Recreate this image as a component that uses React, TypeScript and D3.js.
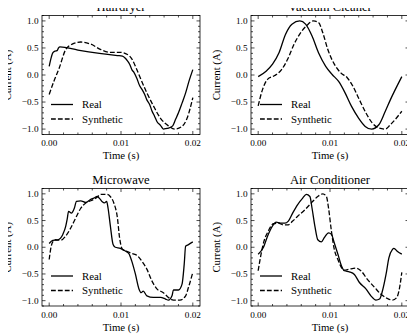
import React from "react";
import * as d3 from "d3";

const W = 415;
const H = 336;

const titles = ["Hairdryer", "Vacuum Cleaner", "Microwave", "Air Conditioner"];
const seriesNames = ["Real", "Synthetic"];
const xTicks = [0, 0.01, 0.02];
const xTickLabels = ["0.00", "0.01", "0.02"];
const yTicks = [1, 0.5, 0, -0.5, -1];
const yTickLabels = ["1.0", "0.5", "0.0", "\u22120.5", "\u22121.0"];

// [time (s), current (A)]
const hairReal: [number, number][] = [
  [0, 0.16], [0.0003, 0.33], [0.0005, 0.41], [0.0008, 0.44], [0.0011, 0.45], [0.0013, 0.5], [0.0015, 0.52],
  [0.004, 0.46], [0.007, 0.4], [0.0095, 0.36], [0.0102, 0.35], [0.0106, 0.31], [0.0109, 0.26],
  [0.0112, 0.2], [0.01155, 0.09], [0.0118, 0.05], [0.0122, -0.06], [0.0126, -0.2], [0.0129, -0.26],
  [0.0133, -0.36], [0.0136, -0.46], [0.014, -0.55], [0.0143, -0.66], [0.0147, -0.77], [0.015, -0.86],
  [0.0155, -0.93], [0.0159, -1.0], [0.0163, -0.99], [0.0166, -0.98], [0.0172, -0.94], [0.0176, -0.82],
  [0.018, -0.7], [0.0185, -0.52], [0.019, -0.33], [0.0195, -0.1], [0.02, 0.1],
];
const hairSyn: [number, number][] = [
  [0, -0.36], [0.0007, -0.1], [0.0014, 0.13], [0.0023, 0.47], [0.0032, 0.57], [0.0044, 0.61],
  [0.0058, 0.57], [0.0072, 0.47], [0.0085, 0.42], [0.0099, 0.42], [0.0109, 0.38], [0.01155, 0.29],
  [0.0122, 0.1], [0.0129, -0.12], [0.0136, -0.33], [0.01455, -0.58], [0.0155, -0.8], [0.0166, -0.94],
  [0.0175, -1.0], [0.0185, -0.95], [0.0192, -0.8], [0.02, -0.42],
];
const vacReal: [number, number][] = [
  [0, -0.03], [0.0011, 0.07], [0.002, 0.2], [0.0029, 0.41], [0.0038, 0.75], [0.0047, 0.94], [0.0058, 1.0],
  [0.0066, 0.94], [0.0075, 0.72], [0.0084, 0.41], [0.0094, 0.16], [0.0103, 0.01], [0.0112, -0.12],
  [0.0121, -0.33], [0.013, -0.58], [0.014, -0.8], [0.0149, -0.95], [0.0158, -1.0], [0.0168, -0.92],
  [0.0177, -0.67], [0.0184, -0.46], [0.02, -0.03],
];
const vacSyn: [number, number][] = [
  [0, -0.57], [0.0006, -0.27], [0.0013, -0.08], [0.0023, -0.01], [0.0032, 0.09], [0.0041, 0.29],
  [0.005, 0.57], [0.0059, 0.78], [0.0068, 0.92], [0.0077, 1.0], [0.0084, 0.97], [0.009, 0.78],
  [0.0097, 0.47], [0.0106, 0.2], [0.0115, 0.04], [0.0124, -0.05], [0.0132, -0.21], [0.0141, -0.46],
  [0.015, -0.7], [0.0159, -0.89], [0.0168, -0.98], [0.0177, -1.0], [0.0184, -0.92], [0.02, -0.67],
];
const micReal: [number, number][] = [
  [0, 0.07], [0.0005, 0.13], [0.0012, 0.14], [0.0019, 0.24], [0.0023, 0.39], [0.0025, 0.52],
  [0.0027, 0.67], [0.0031, 0.64], [0.0035, 0.73], [0.0038, 0.86], [0.0044, 0.87], [0.0051, 0.84],
  [0.0057, 0.89], [0.0062, 0.92], [0.0067, 0.95], [0.0071, 0.9], [0.0074, 0.85], [0.0077, 0.83],
  [0.008, 0.86], [0.0082, 0.73], [0.0085, 0.42], [0.0089, 0.05], [0.0092, 0.0], [0.0099, -0.02],
  [0.0106, -0.07], [0.0111, -0.12], [0.0115, -0.26], [0.012, -0.5], [0.0125, -0.78], [0.0128, -0.85],
  [0.0131, -0.82], [0.0136, -0.91], [0.0145, -0.94], [0.0155, -0.94], [0.0162, -0.97], [0.0166, -0.99],
  [0.0171, -0.91], [0.0173, -0.8], [0.018, -0.8], [0.0185, -0.69], [0.0188, -0.32], [0.019, 0.02],
  [0.0194, 0.05], [0.02, 0.1],
];
const micSyn: [number, number][] = [
  [0, -0.23], [0.0002, -0.04], [0.0005, 0.1], [0.0009, 0.14], [0.0016, 0.13], [0.0023, 0.21],
  [0.003, 0.36], [0.0037, 0.55], [0.0044, 0.73], [0.0051, 0.83], [0.0058, 0.87], [0.0065, 0.92],
  [0.0072, 0.99], [0.008, 0.99], [0.0085, 0.95], [0.009, 0.83], [0.0095, 0.55], [0.0098, 0.18],
  [0.0102, -0.04], [0.0109, -0.08], [0.0116, -0.12], [0.0122, -0.15], [0.0129, -0.26], [0.0136, -0.41],
  [0.0143, -0.63], [0.015, -0.78], [0.0159, -0.85], [0.0166, -0.94], [0.0173, -0.99], [0.0182, -0.99],
  [0.019, -0.91], [0.0194, -0.75], [0.02, -0.47],
];
const acReal: [number, number][] = [
  [0, -0.13], [0.0007, -0.01], [0.0014, 0.24], [0.0021, 0.42], [0.0025, 0.47], [0.0031, 0.45],
  [0.0037, 0.45], [0.0042, 0.49], [0.0048, 0.64], [0.0055, 0.8], [0.0062, 0.92], [0.0067, 0.99],
  [0.0072, 0.95], [0.0075, 0.73], [0.0079, 0.39], [0.0083, 0.14], [0.0088, 0.1], [0.0092, 0.18],
  [0.0098, 0.27], [0.0102, 0.24], [0.0106, 0.08], [0.0111, -0.13], [0.0116, -0.35], [0.012, -0.44],
  [0.0127, -0.46], [0.0134, -0.51], [0.0141, -0.66], [0.015, -0.78], [0.0157, -0.91], [0.0164, -0.99],
  [0.0169, -0.97], [0.0173, -0.82], [0.0178, -0.51], [0.0182, -0.2], [0.0187, -0.04], [0.0189, -0.02],
  [0.0194, -0.08], [0.02, -0.13],
];
const acSyn: [number, number][] = [
  [0, -0.44], [0.0004, -0.13], [0.0008, 0.11], [0.0014, 0.3], [0.0021, 0.44], [0.0028, 0.45],
  [0.0035, 0.42], [0.0042, 0.42], [0.0048, 0.49], [0.0055, 0.58], [0.0065, 0.7], [0.0074, 0.83],
  [0.0083, 0.95], [0.009, 1.0], [0.0095, 0.95], [0.0098, 0.73], [0.0102, 0.3], [0.0106, -0.04],
  [0.0111, -0.23], [0.0116, -0.38], [0.012, -0.43], [0.0127, -0.41], [0.0136, -0.39], [0.0143, -0.44],
  [0.0152, -0.6], [0.0162, -0.75], [0.0171, -0.88], [0.018, -0.96], [0.0187, -0.99], [0.0193, -0.94],
  [0.0196, -0.82], [0.02, -0.47],
];

const realSeries = [hairReal, vacReal, micReal, acReal];
const synSeries = [hairSyn, vacSyn, micSyn, acSyn];

const colLeft = [42, 251];
const colRight = [200, 409];
const rowTop = [15.5, 188.5];
const rowBottom = [134.5, 306];

const FONT = "serif";

function Txt({
  x,
  y,
  size,
  anchor = "start",
  rotate = 0,
  children,
}: {
  x: number;
  y: number;
  size: number;
  anchor?: string;
  rotate?: number;
  children: React.ReactNode;
}) {
  return (
    <text
      x={0}
      y={0}
      transform={`translate(${x},${y}) rotate(${rotate})`}
      fontSize={size}
      fontFamily={FONT}
      textAnchor={anchor}
      fill="#000"
    >
      {children}
    </text>
  );
}

function Panel({ idx }: { idx: number }) {
  const c = idx % 2;
  const r = Math.floor(idx / 2);
  const L = colLeft[c], R = colRight[c], T = rowTop[r], B = rowBottom[r];
  const x = d3.scaleLinear().domain([-0.001, 0.021]).range([L, R]);
  const y = d3.scaleLinear().domain([-1.1, 1.1]).range([B, T]);
  const line = d3
    .line<[number, number]>()
    .x((d) => x(d[0]))
    .y((d) => y(d[1]))
    .curve(d3.curveMonotoneX);
  const xMinor = d3.range(0, 0.0201, 0.002).filter((v) => Math.abs(v / 0.01 - Math.round(v / 0.01)) > 1e-6);
  const yMinor = d3.range(-11, 12).map((v) => v / 10).filter((v) => Math.abs(v * 2 - Math.round(v * 2)) > 1e-6);
  const maj = 3.5;
  const min = 2;
  const tickStyle = { stroke: "#000", strokeWidth: 0.7 };
  const cx = (L + R) / 2;
  const cy = (T + B) / 2;
  return (
    <g>
      <path d={line(realSeries[idx]) || ""} fill="none" stroke="#000" strokeWidth={1.3} />
      <path d={line(synSeries[idx]) || ""} fill="none" stroke="#000" strokeWidth={1.3} strokeDasharray="4.8,2.1" />
      {xTicks.map((v, i) => (
        <g key={"xt" + i}>
          <line x1={x(v)} x2={x(v)} y1={B} y2={B - maj} {...tickStyle} />
          <line x1={x(v)} x2={x(v)} y1={T} y2={T + maj} {...tickStyle} />
          <Txt x={x(v)} y={B + 11.5} size={9.2} anchor="middle">
            {xTickLabels[i]}
          </Txt>
        </g>
      ))}
      {xMinor.map((v, i) => (
        <g key={"xm" + i}>
          <line x1={x(v)} x2={x(v)} y1={B} y2={B - min} {...tickStyle} />
          <line x1={x(v)} x2={x(v)} y1={T} y2={T + min} {...tickStyle} />
        </g>
      ))}
      {yTicks.map((v, i) => (
        <g key={"yt" + i}>
          <line x1={L} x2={L + maj} y1={y(v)} y2={y(v)} {...tickStyle} />
          <line x1={R} x2={R - maj} y1={y(v)} y2={y(v)} {...tickStyle} />
          <Txt x={L - 3.5} y={y(v) + 3.2} size={9.2} anchor="end">
            {yTickLabels[i]}
          </Txt>
        </g>
      ))}
      {yMinor.map((v, i) => (
        <g key={"ym" + i}>
          <line x1={L} x2={L + min} y1={y(v)} y2={y(v)} {...tickStyle} />
          <line x1={R} x2={R - min} y1={y(v)} y2={y(v)} {...tickStyle} />
        </g>
      ))}
      <rect x={L} y={T} width={R - L} height={B - T} fill="none" stroke="#000" strokeWidth={0.8} />
      <Txt x={cx} y={T - 4.5} size={12.6} anchor="middle">
        {titles[idx]}
      </Txt>
      <Txt x={cx} y={B + 24.5} size={10.8} anchor="middle">
        Time (s)
      </Txt>
      <Txt x={L - 31} y={cy} size={10.8} anchor="middle" rotate={-90}>
        Current (A)
      </Txt>
      {seriesNames.map((n, i) => {
        const ly = B - 30 + i * 14.5;
        return (
          <g key={"lg" + i}>
            <line
              x1={L + 9}
              x2={L + 31}
              y1={ly}
              y2={ly}
              stroke="#000"
              strokeWidth={1.3}
              strokeDasharray={i === 1 ? "4.8,2.1" : undefined}
            />
            <Txt x={L + 40} y={ly + 3.5} size={10.8}>
              {n}
            </Txt>
          </g>
        );
      })}
    </g>
  );
}

export default function App() {
  return (
    <svg
      width={W}
      height={H}
      style={{ display: "block", background: "#fff", fontFamily: FONT, margin: "-8px 0 0 -8px" }}
    >
      <rect width={W} height={H} fill="#fff" />
      {[0, 1, 2, 3].map((i) => (
        <Panel key={i} idx={i} />
      ))}
    </svg>
  );
}
